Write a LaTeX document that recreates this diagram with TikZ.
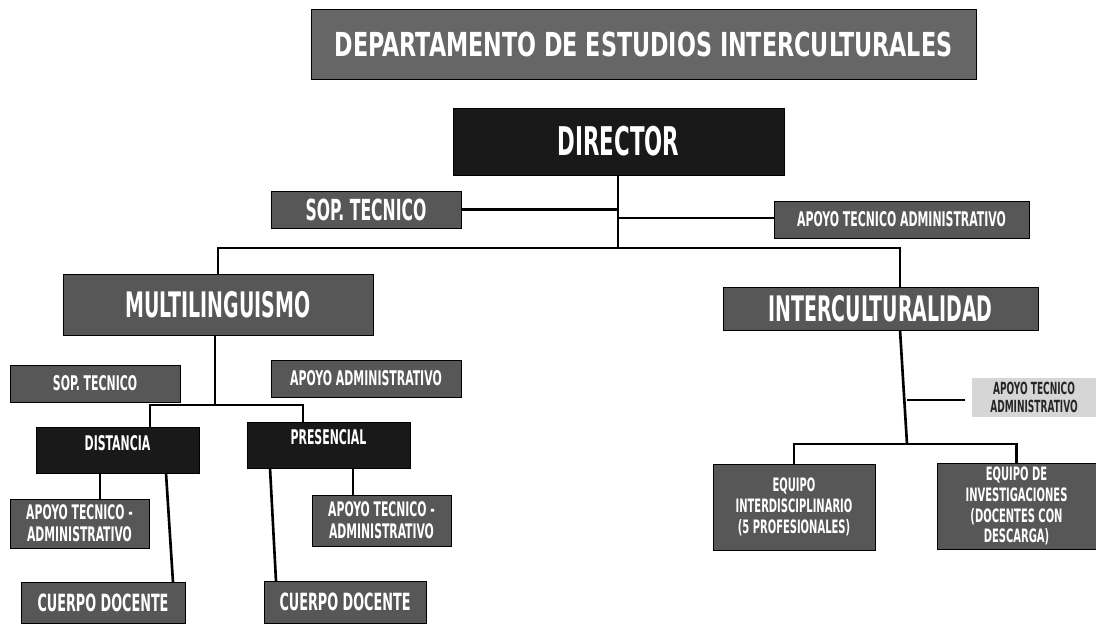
\documentclass[tikz,border=0pt]{standalone}
\usepackage{fontspec}
\newfontfamily\orgfont{DejaVu Sans Condensed Bold}[FakeStretch=0.6]
\newfontfamily\titlefont{DejaVu Sans Condensed Bold}[FakeStretch=0.75]
\newcommand{\fs}[2]{\fontsize{#1}{#2}\selectfont}
\begin{document}
\begin{tikzpicture}[x=0.2mm,y=-0.2mm,
    unit/.style = {rectangle,draw=black,thin,fill=black!66,text=white,align=center,inner sep=0pt,outer sep=0mm},
    head/.style = {unit,fill=black!90},
    soft/.style = {unit,draw=none,fill=black!16,text=black!85},
    link/.style = {line width=1.5pt}]
\useasboundingbox (0,0) rectangle (1096,623);
\node[unit,fill=black!60,minimum width=133mm,minimum height=14mm,font=\titlefont\fs{18.8}{20}] (depto) at (643.5,44) {DEPARTAMENTO DE ESTUDIOS INTERCULTURALES};
\node[head,minimum width=66.2mm,minimum height=13.4mm,font=\orgfont\fs{22.5}{24}] (director) at (618.5,141.5) {DIRECTOR};
\node[unit,minimum width=38mm,minimum height=7.4mm,font=\orgfont\fs{16.5}{18}] (soptec) at (366,209.5) {SOP. TECNICO};
\node[unit,minimum width=51mm,minimum height=7.4mm,font=\orgfont\fs{11.5}{13}] (apoyotec) at (901.5,219.5) {APOYO TECNICO ADMINISTRATIVO};
\node[unit,minimum width=62mm,minimum height=12.2mm,font=\orgfont\fs{20}{22}] (multi) at (218,304.5) {MULTILINGUISMO};
\node[unit,minimum width=63mm,minimum height=8.6mm,font=\orgfont\fs{20}{22}] (inter) at (880.5,308.5) {INTERCULTURALIDAD};
\node[unit,minimum width=34mm,minimum height=7.4mm,font=\orgfont\fs{11.5}{13}] (soptecm) at (95,383.5) {SOP. TECNICO};
\node[unit,minimum width=38mm,minimum height=7.4mm,font=\orgfont\fs{11.5}{13}] (apoyoadm) at (366,378.5) {APOYO ADMINISTRATIVO};
\node[head,minimum width=32.6mm,minimum height=9.2mm,font=\orgfont\fs{11.5}{13},text depth=2.8mm] (dist) at (117.5,450) {DISTANCIA};
\node[head,minimum width=32.6mm,minimum height=9.2mm,font=\orgfont\fs{11.5}{13},text depth=3.2mm] (pres) at (328.5,445) {PRESENCIAL};
\node[unit,minimum width=27.8mm,minimum height=9.8mm,font=\orgfont\fs{11.4}{12.5}] (apoyodist) at (79.5,523.5) {APOYO TECNICO -\\ADMINISTRATIVO};
\node[unit,minimum width=32.8mm,minimum height=8.2mm,font=\orgfont\fs{13.5}{15}] (docdist) at (103,603) {CUERPO DOCENTE};
\node[unit,minimum width=27.8mm,minimum height=10.2mm,font=\orgfont\fs{11.4}{12.5}] (apoyopres) at (381.5,520.5) {APOYO TECNICO -\\ADMINISTRATIVO};
\node[unit,minimum width=32.4mm,minimum height=8.4mm,font=\orgfont\fs{13.5}{15}] (docpres) at (345,602) {CUERPO DOCENTE};
\node[soft,minimum width=24.8mm,minimum height=7.8mm,font=\orgfont\fs{9.5}{10.2}] (apoyoint) at (1034,397.5) {APOYO TECNICO\\ADMINISTRATIVO};
\node[unit,minimum width=32.4mm,minimum height=17.2mm,font=\orgfont\fs{10.5}{11.8}] (equipo) at (794,507) {EQUIPO\\INTERDISCIPLINARIO\\(5 PROFESIONALES)};
\node[unit,minimum width=31.8mm,minimum height=17.2mm,font=\orgfont\fs{10.5}{11.8}] (invest) at (1016.5,506) {EQUIPO DE\\INVESTIGACIONES\\(DOCENTES CON\\DESCARGA)};
\coordinate (dbus) at (618,248);
\coordinate (mbus) at (215,405);
\coordinate (ibus) at (907,444);
\draw[link] (director.south -| dbus) -- (dbus);
\draw[link] (soptec.east) -- (soptec.east -| dbus);
\draw[link] ([yshift=0.3mm]apoyotec.west) -- ([yshift=0.3mm]apoyotec.west -| dbus);
\draw[link] (multi.north) |- (dbus) -| ([xshift=3.9mm]inter.north);
\draw[link] (multi.south -| mbus) -- (mbus);
\draw[link] ([xshift=6.5mm]dist.north) |- (mbus) -| ([xshift=-5.1mm]pres.north);
\draw[link] ([xshift=-3.5mm]dist.south) -- ([xshift=-3.5mm]dist.south |- apoyodist.north);
\draw[link] ([xshift=9.7mm]dist.south) -- ([xshift=14mm]docdist.north);
\draw[link] ([xshift=4.9mm]pres.south) -- ([xshift=4.9mm]pres.south |- apoyopres.north);
\draw[link] ([xshift=-11.7mm]pres.south) -- ([xshift=-13.8mm]docpres.north);
\draw[link] ([xshift=3.9mm]inter.south) -- (ibus);
\draw[link] ([xshift=-1.4mm,yshift=-0.5mm]apoyoint.west) -- ([yshift=-0.5mm]apoyoint.west -| ibus);
\draw[link] (equipo.north) |- (ibus) -| (invest.north);
\end{tikzpicture}
\end{document}
